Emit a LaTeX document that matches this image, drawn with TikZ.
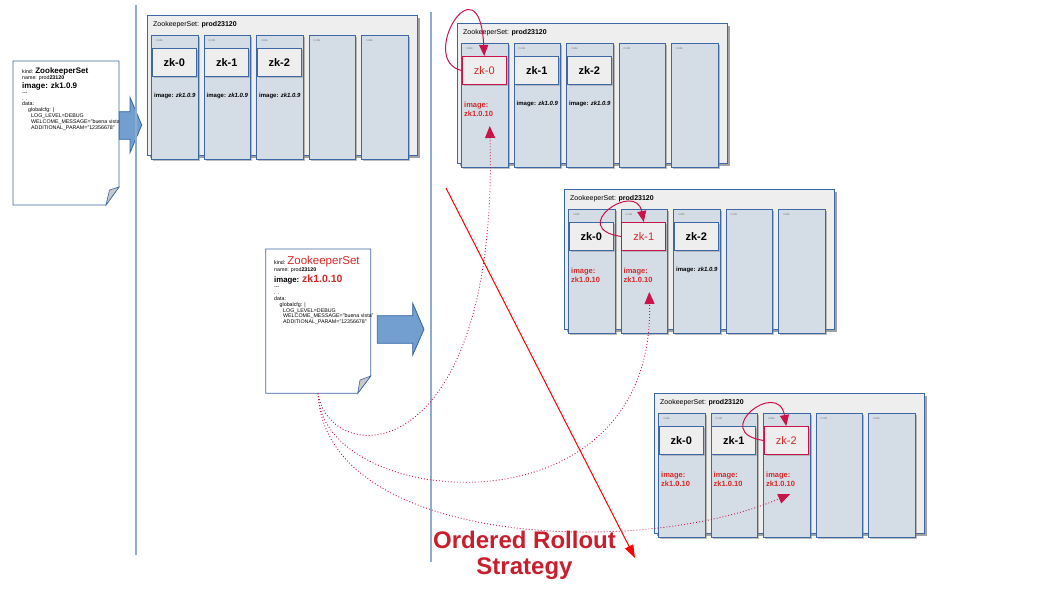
\documentclass[tikz,border=0pt]{standalone}
\usepackage{fontspec}
\setmainfont{Liberation Sans}
\usetikzlibrary{positioning, arrows.meta, calc, shadows}
\definecolor{setblue}{RGB}{62,104,165}
\definecolor{colfill}{RGB}{212,221,230}
\definecolor{boxfill}{RGB}{238,238,238}
\definecolor{arrowfill}{RGB}{114,159,207}
\definecolor{arrowline}{RGB}{52,101,164}
\definecolor{sepblue}{RGB}{140,172,212}
\definecolor{podred}{RGB}{200,20,75}
\definecolor{textred}{RGB}{215,40,40}
\definecolor{titlered}{RGB}{200,30,45}
\definecolor{foldgray}{RGB}{200,200,200}

\begin{document}
\begin{tikzpicture}[x=1pt, y=-1pt,
    setbox/.style={draw=setblue, fill=boxfill, line width=0.8pt, inner sep=0pt,
        minimum width=270pt, minimum height=140pt,
        drop shadow={shadow xshift=3pt, shadow yshift=-3pt, fill=black!60, opacity=.6}},
    nodecol/.style={draw=setblue, fill=colfill, line width=0.8pt, inner sep=0pt,
        minimum width=46.5pt, minimum height=124pt,
        drop shadow={shadow xshift=2pt, shadow yshift=-2pt, fill=black!50, opacity=.5}},
    pod/.style={draw=setblue, fill=boxfill, line width=0.8pt, inner sep=0pt,
        minimum width=44pt, minimum height=28pt,
        drop shadow={shadow xshift=1.5pt, shadow yshift=-1.5pt, fill=black!50, opacity=.4},
        font=\fontsize{11}{13}\selectfont\bfseries},
    newpod/.style={pod, draw=podred, line width=1pt, text=textred,
        font=\fontsize{11}{13}\selectfont},
    settitle/.style={font=\fontsize{7}{8}\selectfont, inner sep=0pt},
    tag/.style={font=\fontsize{3}{3.5}\selectfont, text=gray, inner sep=0pt},
    oldimg/.style={font=\fontsize{6}{7}\selectfont\bfseries, inner sep=0pt},
    newimg/.style={font=\fontsize{7.5}{9}\selectfont\bfseries, text=textred,
        align=left, inner sep=0pt},
    doc/.style={draw=setblue, fill=white, line width=0.8pt},
    fold/.style={draw=setblue, fill=foldgray, line width=0.6pt},
    docline/.style={inner sep=0pt, anchor=base west},
    doctext/.style={inner sep=0pt, anchor=north west, font=\fontsize{5.3}{5.8}\selectfont, align=left},
    blockarrow/.style={draw=arrowline, fill=arrowfill, line width=0.8pt},
    sepline/.style={draw=sepblue, line width=1.2pt},
    restart/.style={draw=podred, line width=1pt, -{Triangle[length=11pt, width=9pt]}},
    apply/.style={draw=podred, line width=0.9pt, dash pattern=on 0.9pt off 2.1pt,
        -{Triangle[length=12pt, width=10pt]}},
    rollout/.style={draw=red, line width=1pt, -{Triangle[length=13pt, width=9pt]}},
    titletext/.style={font=\fontsize{24}{27}\selectfont\bfseries, text=titlered, inner sep=0pt}
  ]
\useasboundingbox (0,0) rectangle (1058,595);

% manifests
\draw[doc] (13,61) -- (119,61) -- (119,187) -- (106,205) -- (13,205) -- cycle;
\draw[fold] (106,205) -- (109.5,190) -- (119,187) -- cycle;
\node[docline] (doc1-kind) at (22,73.8)
    {\fontsize{5.3}{6}\selectfont kind: \fontsize{8}{9}\selectfont\bfseries ZookeeperSet};
\node[docline] (doc1-name) at (22,79.5)
    {\fontsize{5.3}{6}\selectfont name: prod\textbf{23120}};
\node[docline] (doc1-image) at (22,88.5)
    {\fontsize{8}{9}\selectfont\bfseries image: zk1.0.9};
\node[doctext] (doc1-body) at (22,90.1)
    {\strut-{}-{}-\\. .\\data:\\\hspace*{6pt}globalcfg: |\\
     \hspace*{9pt}LOG\_LEVEL=DEBUG\\
     \hspace*{9pt}WELCOME\_MESSAGE="buena vista"\\
     \hspace*{9pt}ADDITIONAL\_PARAM="12356678"};

\draw[doc] (265.7,249) -- (370.7,249) -- (370.7,376) -- (357.7,393.3) -- (265.7,393.3) -- cycle;
\draw[fold] (357.7,393.3) -- (360,380) -- (370.7,376) -- cycle;
\coordinate (doc2-foot) at (318,393.3);
\node[docline] (doc2-kind) at (274,264.5)
    {\fontsize{5.3}{6}\selectfont kind: \fontsize{11.5}{13}\selectfont\color{textred}ZookeeperSet};
\node[docline] (doc2-name) at (274,271.3)
    {\fontsize{5.3}{6}\selectfont name: prod\textbf{23120}};
\node[docline] (doc2-image) at (274,282)
    {\fontsize{7.8}{9}\selectfont\bfseries image: \fontsize{10.5}{12}\selectfont\color{textred}zk1.0.10};
\node[doctext] (doc2-body) at (274,284.7)
    {\strut-{}-{}-\\. .\\data:\\\hspace*{5.5pt}globalcfg: |\\
     \hspace*{9pt}LOG\_LEVEL=DEBUG\\
     \hspace*{9pt}WELCOME\_MESSAGE="buena vista"\\
     \hspace*{9pt}ADDITIONAL\_PARAM="12356678"};

\draw[blockarrow] (119.3,111.7) -- (130,111.7) -- (130,97.3) -- (141.7,125)
    -- (130,152.7) -- (130,139.3) -- (119.3,139.3) -- cycle;
\draw[blockarrow] (377.3,315.7) -- (412.7,315.7) -- (412.7,303.3) -- (424,329.3)
    -- (412.7,355) -- (412.7,343.3) -- (377.3,343.3) -- cycle;

\draw[sepline] (136,5) -- (136,555);
\draw[sepline] (431,12) -- (431,562);

% zookeeper sets, \k = pod being restarted
\foreach \s/\sx/\sy/\k in {A/147/15/-1, B/457/23/0, C/564/189/1, D/654/393/2} {
  \node[setbox, anchor=north west] (\s) at (\sx,\sy) {};
  \node[settitle, anchor=base west] (\s-title) at (\sx+6,\sy+11.5)
      {ZookeeperSet: \textbf{prod23120}};
  \foreach \i in {0,...,4}
    \node[nodecol, anchor=north west] (\s-col\i) at (\sx+4+52.5*\i,\sy+20) {};
  \foreach \i in {0,...,4}
    \node[tag, anchor=west] (\s-tag\i) at (\sx+9+52.5*\i,\sy+25) {node};
  \foreach \i in {0,1,2} {
    \ifnum\i=\k
      \node[newpod] (\s-zk\i) at (\sx+27.25+52.5*\i,\sy+47.5) {zk-\i};
    \else
      \node[pod] (\s-zk\i) at (\sx+27.25+52.5*\i,\sy+47.5) {zk-\i};
    \fi
    \ifnum\i>\k
      \node[oldimg, anchor=west] (\s-img\i) at (\sx+7+52.5*\i,\sy+81)
          {image: \textit{zk1.0.9}};
    \else
      \node[newimg, anchor=north west] (\s-img\i) at (\sx+7+52.5*\i,\sy+79)
          {image:\\zk1.0.10};
    \fi
  }
}

\draw[restart] (B-zk0.west) .. controls +(-45,-10) and +(-5,-100) .. (B-zk0.north);
\draw[restart] (C-zk1.west) .. controls +(-55,-8) and +(-8,-42) .. (C-zk1.north);
\draw[restart] (D-zk2.west) .. controls +(-55,-8) and +(-8,-48) .. (D-zk2.north);

\coordinate (B-tip) at ($(B-zk0.south)+(5.5,41)$);
\coordinate (C-tip) at ($(C-zk1.south)+(5.5,41)$);
\coordinate (D-tip) at ($(D-zk2.south)+(4,39)$);
\draw[apply] (doc2-foot) .. controls +(12,77) and +(9,345) .. (B-tip);
\draw[apply] (doc2-foot) .. controls +(2,117) and +(6,249) .. (C-tip);
\draw[apply] (doc2-foot) .. controls +(7,152) and +(-152,65) .. (D-tip);

\coordinate (rollout-from) at (446,188);
\coordinate (rollout-to) at (635,558);
\draw[rollout] (rollout-from) -- (rollout-to);

\node[titletext, anchor=base] (title-top) at (524.5,548.3) {Ordered Rollout};
\node[titletext, anchor=base] (title-bottom) at (524.5,574.3) {Strategy};
\end{tikzpicture}
\end{document}
